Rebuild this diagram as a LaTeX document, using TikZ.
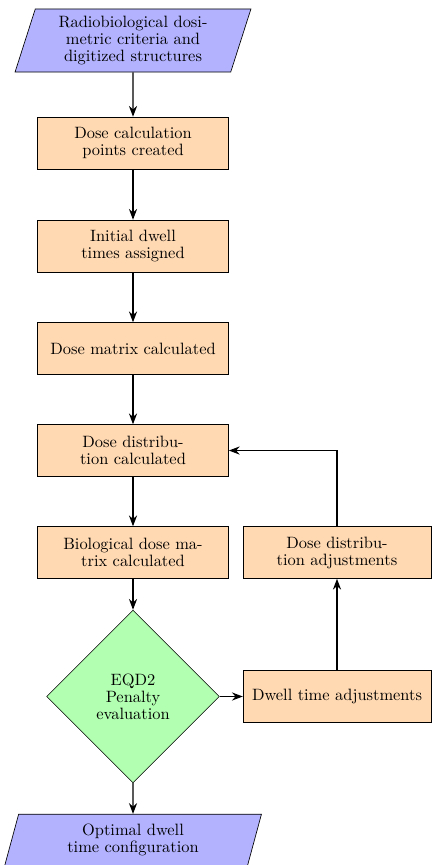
\documentclass[tikz,border=0pt]{standalone}
\usepackage{tikz}
\usetikzlibrary{shapes.geometric, arrows.meta, positioning}

\begin{document}
\begin{tikzpicture}[
    font=\fontsize{10pt}{10.4pt}\selectfont,
    io/.style={trapezium, trapezium left angle=70, trapezium right angle=110,
               trapezium stretches body, draw, fill=blue!30, align=center,
               inner sep=2pt},
    stepbox/.style={rectangle, draw, fill=orange!30, align=center,
                    minimum width=4.09cm, minimum height=1.11cm},
    decision/.style={diamond, draw, fill=green!30, align=center,
                     inner sep=0pt, minimum size=3.7cm},
    arrow/.style={-Stealth, thick}
  ]
    \useasboundingbox (-2.848, 0) rectangle (6.381, -18.522);
    % main column
    \node[io, minimum width=5.05cm, minimum height=1.35cm] (in) at (0, -0.867)
      {Radiobiological dosi-\\metric criteria and\\digitized structures};
    \node[stepbox] (pts) at (0, -3.062) {Dose calculation\\points created};
    \node[stepbox] (init) at (0, -5.268) {Initial dwell\\times assigned};
    \node[stepbox] (mat) at (0, -7.463) {Dose matrix calculated};
    \node[stepbox] (dist) at (0, -9.647) {Dose distribu-\\tion calculated};
    \node[stepbox] (bio) at (0, -11.831) {Biological dose ma-\\trix calculated};
    \node[decision] (eqd) at (0, -14.914) {EQD2\\Penalty\\evaluation};
    \node[io, minimum width=5.50cm, minimum height=1.11cm] (out) at (0, -17.99)
      {Optimal dwell\\time configuration};
    % feedback column
    \node[stepbox, minimum width=4.02cm] (dwell) at (4.368, -14.914)
      {Dwell time adjustments};
    \node[stepbox, minimum width=4.02cm] (adj) at (4.368, -11.831)
      {Dose distribu-\\tion adjustments};

    \draw[arrow] (in) -- (pts);
    \draw[arrow] (pts) -- (init);
    \draw[arrow] (init) -- (mat);
    \draw[arrow] (mat) -- (dist);
    \draw[arrow] (dist) -- (bio);
    \draw[arrow] (bio) -- (eqd);
    \draw[arrow] (eqd) -- (out);
    \draw[arrow] (eqd) -- (dwell);
    \draw[arrow] (dwell) -- (adj);
    \draw[arrow] (adj.north) |- (dist.east);
  \end{tikzpicture}
\end{document}
